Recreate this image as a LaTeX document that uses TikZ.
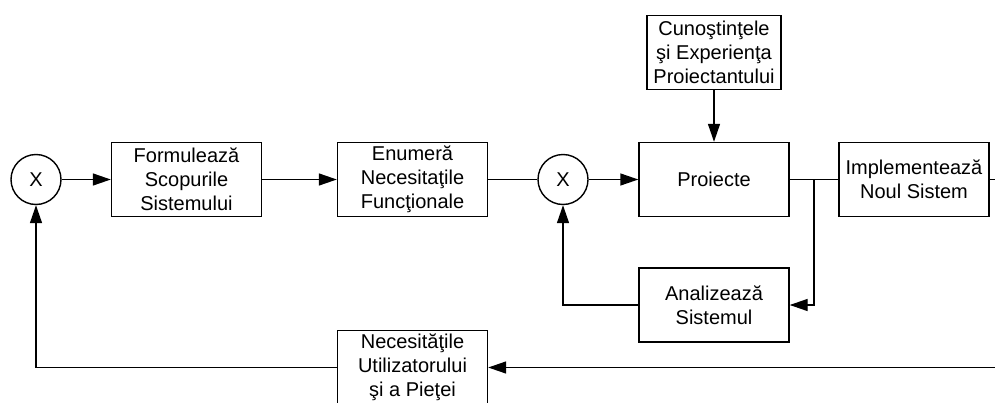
\documentclass[tikz,border=0pt]{standalone}
\usepackage{fontspec}
\setmainfont{Liberation Sans}
\usetikzlibrary{positioning, arrows.meta}

\begin{document}
\begin{tikzpicture}[
    on grid,
    block/.style={draw, rectangle, minimum width=150pt, minimum height=74pt,
        align=center, inner sep=2pt},
    junction/.style={draw, circle, minimum size=50pt, inner sep=0pt},
    flow/.style={line width=1.4pt, -{Triangle[length=18pt, width=12pt]}},
    plain/.style={line width=1.4pt},
    every node/.style={line width=1.4pt, font=\fontsize{20}{24}\selectfont}
]
    \clip (0pt,179.5pt) rectangle (995pt,-222.5pt);

    % main row, centre to centre
    \node [junction] (X1) at (36pt,0) {X};
    \node [block, right=150.5pt of X1] (F) {Formulează\\Scopurile\\Sistemului};
    \node [block, right=226pt of F] (E) {Enumeră\\Necesitaţile\\Funcţionale};
    \node [junction, right=150.5pt of E] (X2) {X};
    \node [block, right=151pt of X2] (P) {Proiecte};
    \node [block, right=200pt of P] (I) {Implementează\\Noul Sistem};

    \node [block, minimum width=134pt, above=127pt of P] (C)
        {Cunoştinţele\\şi Experienţa\\Proiectantului};
    \node [block, below=125.5pt of P] (A) {Analizează\\Sistemul};
    \node [block, below=188pt of E] (N)
        {Necesităţile\\Utilizatorului\\şi a Pieţei};

    \draw [flow] (X1) -- (F);
    \draw [flow] (F) -- (E);
    \draw [plain] (E) -- (X2);
    \draw [flow] (X2) -- (P);
    \draw [flow] (C) -- (P);
    \draw [plain] (P) -- coordinate (split) (I);

    % feedback loops
    \draw [flow] (split) |- (A);
    \draw [flow] (A) -| (X2);
    \draw [flow] (I.east) -- ++(20pt,0) |- (N);
    \draw [flow] (N) -| (X1);
\end{tikzpicture}
\end{document}
